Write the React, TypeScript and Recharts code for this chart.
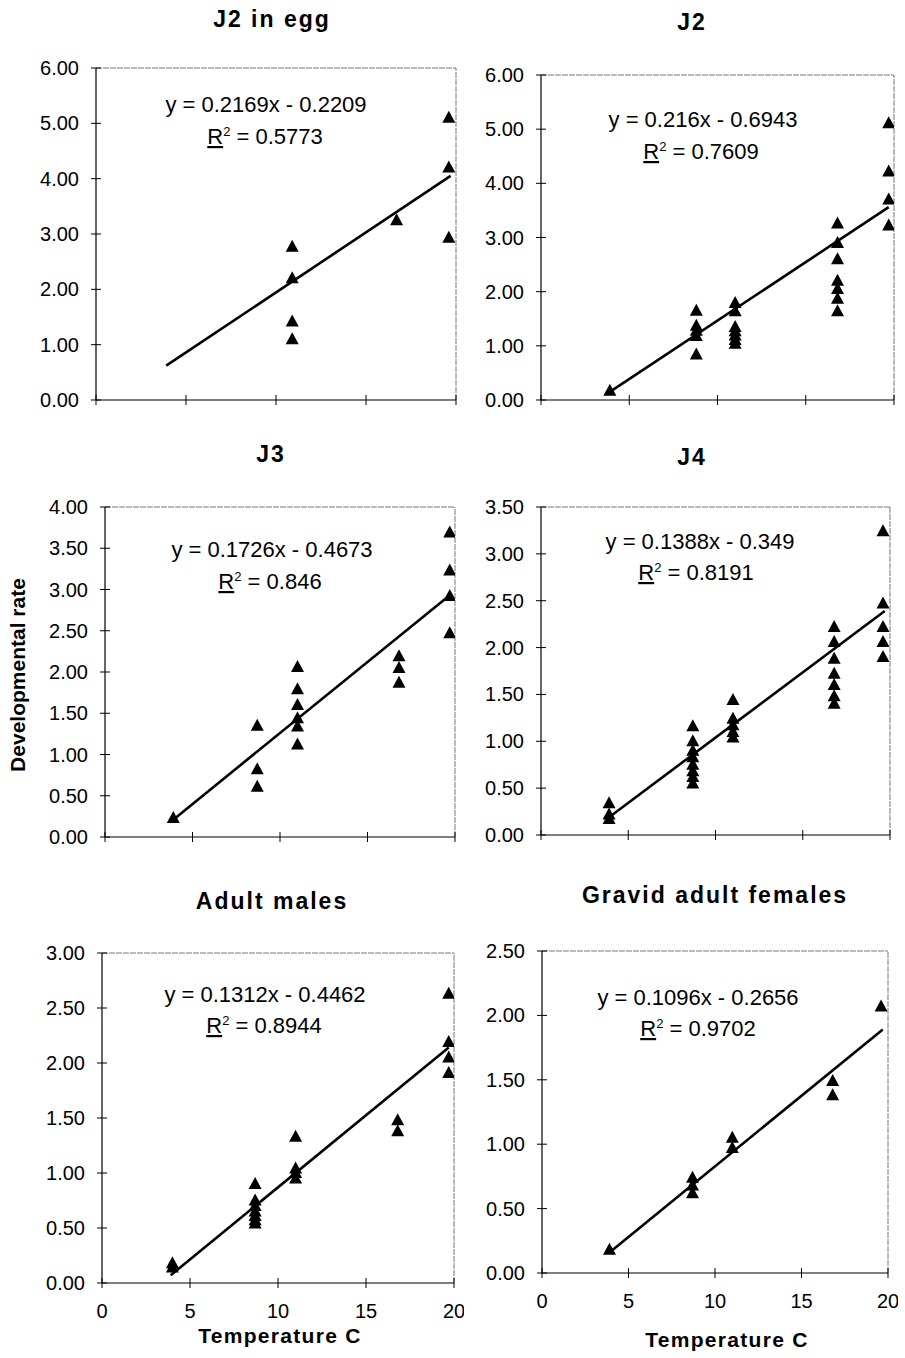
import React from 'react';
import { ScatterChart, Scatter, XAxis, YAxis, ReferenceLine } from 'recharts';

const FONT = '"Liberation Sans", Arial, Helvetica, sans-serif';

type Pt = [number, number];

// ---- data (temperature °C, developmental rate) ----
const j2EggPoints: Pt[] = [
  [10.9, 2.77], [10.9, 2.2], [10.9, 1.42], [10.9, 1.1],
  [16.7, 3.25],
  [19.6, 5.1], [19.6, 4.2], [19.6, 2.93],
];
const j2EggTrend: Pt[] = [[3.9, 0.62], [19.7, 4.05]];

const j2Points: Pt[] = [
  [3.9, 0.17],
  [8.8, 1.65], [8.8, 1.37], [8.8, 1.28], [8.8, 1.18], [8.8, 0.84],
  [11, 1.79], [11, 1.64], [11, 1.35], [11, 1.27], [11, 1.19], [11, 1.11], [11, 1.04],
  [16.8, 3.26], [16.8, 2.9], [16.8, 2.6], [16.8, 2.2], [16.8, 2.05], [16.8, 1.87], [16.8, 1.64],
  [19.7, 5.11], [19.7, 4.22], [19.7, 3.7], [19.7, 3.22],
];
const j2Trend: Pt[] = [[3.9, 0.15], [19.7, 3.56]];

const j3Points: Pt[] = [
  [3.9, 0.23],
  [8.7, 1.35], [8.7, 0.82], [8.7, 0.61],
  [11, 2.06], [11, 1.79], [11, 1.6], [11, 1.44], [11, 1.34], [11, 1.12],
  [16.8, 2.19], [16.8, 2.05], [16.8, 1.87],
  [19.7, 3.69], [19.7, 3.23], [19.7, 2.92], [19.7, 2.47],
];
const j3Trend: Pt[] = [[3.9, 0.21], [19.7, 2.93]];

const j4Points: Pt[] = [
  [3.9, 0.34], [3.9, 0.22], [3.9, 0.17],
  [8.7, 1.16], [8.7, 1.0], [8.7, 0.9], [8.7, 0.83], [8.7, 0.75], [8.7, 0.68], [8.7, 0.62], [8.7, 0.55],
  [11, 1.44], [11, 1.24], [11, 1.17], [11, 1.1], [11, 1.04],
  [16.8, 2.22], [16.8, 2.06], [16.8, 1.88], [16.8, 1.72], [16.8, 1.6], [16.8, 1.48], [16.8, 1.4],
  [19.6, 3.24], [19.6, 2.47], [19.6, 2.22], [19.6, 2.06], [19.6, 1.9],
];
const j4Trend: Pt[] = [[3.9, 0.19], [19.7, 2.39]];

const malePoints: Pt[] = [
  [4, 0.18], [4, 0.14],
  [8.7, 0.9], [8.7, 0.75], [8.7, 0.7], [8.7, 0.65], [8.7, 0.61], [8.7, 0.57], [8.7, 0.54],
  [11, 1.33], [11, 1.04], [11, 1.0], [11, 0.95],
  [16.8, 1.48], [16.8, 1.38],
  [19.7, 2.63], [19.7, 2.19], [19.7, 2.05], [19.7, 1.91],
];
const maleTrend: Pt[] = [[3.9, 0.07], [19.7, 2.14]];

const femalePoints: Pt[] = [
  [3.9, 0.18],
  [8.7, 0.74], [8.7, 0.68], [8.7, 0.62],
  [11, 1.05], [11, 0.97],
  [16.8, 1.49], [16.8, 1.38],
  [19.6, 2.07],
];
const femaleTrend: Pt[] = [[3.9, 0.16], [19.7, 1.89]];

// ---- tick labels ----
const xTicks = [0, 5, 10, 15, 20];
const yTicks6 = [0, 1, 2, 3, 4, 5, 6];
const yTicks4 = [0, 0.5, 1, 1.5, 2, 2.5, 3, 3.5, 4];
const yTicks35 = [0, 0.5, 1, 1.5, 2, 2.5, 3, 3.5];
const yTicks3 = [0, 0.5, 1, 1.5, 2, 2.5, 3];
const yTicks25 = [0, 0.5, 1, 1.5, 2, 2.5];

// ---- titles / equations ----
const titles = ['J2 in egg', 'J2', 'J3', 'J4', 'Adult males', 'Gravid adult females'];
const equations = [
  'y = 0.2169x - 0.2209',
  'y = 0.216x - 0.6943',
  'y = 0.1726x - 0.4673',
  'y = 0.1388x - 0.349',
  'y = 0.1312x - 0.4462',
  'y = 0.1096x - 0.2656',
];
const r2Values = ['0.5773', '0.7609', '0.846', '0.8191', '0.8944', '0.9702'];

const toData = (pts: Pt[]) => pts.map(([x, y]) => ({ x, y }));

// layout
const TICK_SIZE = 5;
const Y_MARGIN = 12;
const X_MARGIN = 16;

interface Box { x0: number; y0: number; x1: number; y1: number }
interface Panel {
  points: Pt[];
  trend: Pt[];
  yTicks: number[];
  box: Box;
  showX: boolean;
  title: { x: number; y: number };
  eq: { x: number; y: number };
  r2: { x: number; y: number };
}

const panels: Panel[] = [
  { points: j2EggPoints, trend: j2EggTrend, yTicks: yTicks6, box: { x0: 96, y0: 68, x1: 456, y1: 400 }, showX: false,
    title: { x: 272, y: 27 }, eq: { x: 266, y: 112 }, r2: { x: 265, y: 144 } },
  { points: j2Points, trend: j2Trend, yTicks: yTicks6, box: { x0: 541, y0: 75, x1: 894, y1: 400 }, showX: false,
    title: { x: 692, y: 30 }, eq: { x: 703, y: 127 }, r2: { x: 701, y: 159 } },
  { points: j3Points, trend: j3Trend, yTicks: yTicks4, box: { x0: 105, y0: 507, x1: 455, y1: 837 }, showX: false,
    title: { x: 271, y: 462 }, eq: { x: 272, y: 557 }, r2: { x: 270, y: 589 } },
  { points: j4Points, trend: j4Trend, yTicks: yTicks35, box: { x0: 541, y0: 507, x1: 890, y1: 835 }, showX: false,
    title: { x: 692, y: 465 }, eq: { x: 700, y: 549 }, r2: { x: 696, y: 580 } },
  { points: malePoints, trend: maleTrend, yTicks: yTicks3, box: { x0: 102, y0: 953, x1: 454, y1: 1283 }, showX: true,
    title: { x: 272, y: 909 }, eq: { x: 265, y: 1002 }, r2: { x: 264, y: 1033 } },
  { points: femalePoints, trend: femaleTrend, yTicks: yTicks25, box: { x0: 542, y0: 951, x1: 888, y1: 1273 }, showX: true,
    title: { x: 715, y: 903 }, eq: { x: 698, y: 1005 }, r2: { x: 698, y: 1036 } },
];

const Triangle = (props: any) => {
  const { cx, cy } = props;
  if (cx == null || cy == null) return <g />;
  return (
    <polygon
      points={`${cx},${cy - 7} ${cx - 6.5},${cy + 5} ${cx + 6.5},${cy + 5}`}
      fill="#000"
    />
  );
};

const NoShape = () => <g />;

const makeYTick = () => (props: any) => {
  const { x, y, payload } = props;
  const axisX = x + TICK_SIZE + Y_MARGIN;
  return (
    <g>
      <line x1={axisX} x2={axisX + 5} y1={y} y2={y} stroke="#000" strokeWidth={1} />
      <text x={x} y={y + 7} textAnchor="end" fontSize={20} fontFamily={FONT} fill="#000">
        {Number(payload.value).toFixed(2)}
      </text>
    </g>
  );
};

const makeXTick = (show: boolean) => (props: any) => {
  const { x, y, payload } = props;
  const axisY = y - TICK_SIZE - X_MARGIN;
  return (
    <g>
      <line x1={x} x2={x} y1={axisY} y2={axisY - 5} stroke="#000" strokeWidth={1} />
      {show && (
        <text x={x} y={y + 14} textAnchor="middle" fontSize={20} fontFamily={FONT} fill="#000">
          {payload.value}
        </text>
      )}
    </g>
  );
};

const YW = 60;
const XH = 40;
const PAD_L = 90;
const PAD_T = 10;
const PAD_R = 10;
const PAD_B = 50;

const PanelChart = ({ p }: { p: Panel }) => {
  const { box } = p;
  const width = box.x1 - box.x0 + PAD_L + PAD_R;
  const height = box.y1 - box.y0 + PAD_T + PAD_B;
  const yMax = p.yTicks[p.yTicks.length - 1];
  return (
    <div style={{ position: 'absolute', left: box.x0 - PAD_L, top: box.y0 - PAD_T, width, height }}>
      <ScatterChart
        width={width}
        height={height}
        margin={{ top: PAD_T, left: PAD_L - YW, right: PAD_R, bottom: PAD_B - XH }}
      >
        <XAxis
          type="number"
          dataKey="x"
          domain={[0, 20]}
          ticks={xTicks}
          allowDataOverflow
          height={XH}
          tickSize={TICK_SIZE}
          tickMargin={X_MARGIN}
          axisLine={{ stroke: '#000', strokeWidth: 1.2 }}
          tickLine={{ stroke: '#000' }}
          tick={makeXTick(p.showX)}
          interval={0}
        />
        <YAxis
          type="number"
          dataKey="y"
          domain={[0, yMax]}
          ticks={p.yTicks}
          allowDataOverflow
          width={YW}
          tickSize={TICK_SIZE}
          tickMargin={Y_MARGIN}
          axisLine={{ stroke: '#000', strokeWidth: 1.2 }}
          tickLine={{ stroke: '#000' }}
          tick={makeYTick()}
          interval={0}
        />
        <ReferenceLine y={yMax} stroke="#777" strokeWidth={1} strokeDasharray="6 1" />
        <ReferenceLine x={20} stroke="#777" strokeWidth={1} strokeDasharray="6 1" />
        <Scatter
          data={toData(p.trend)}
          line={{ stroke: '#000', strokeWidth: 2.6 }}
          shape={NoShape}
          isAnimationActive={false}
        />
        <Scatter data={toData(p.points)} shape={Triangle} isAnimationActive={false} />
      </ScatterChart>
    </div>
  );
};

export default function App() {
  return (
    <div style={{ position: 'absolute', left: 0, top: 0, width: 905, height: 1358, background: '#fff', overflow: 'hidden' }}>
      {panels.map((p, i) => (
        <PanelChart key={i} p={p} />
      ))}
      <svg width={905} height={1358} style={{ position: 'absolute', left: 0, top: 0, pointerEvents: 'none' }}>
        {panels.map((p, i) => (
          <g key={i} fontFamily={FONT} fill="#000">
            <text x={p.title.x} y={p.title.y} textAnchor="middle" fontSize={23} fontWeight="bold" letterSpacing={2}>
              {titles[i]}
            </text>
            <text x={p.eq.x} y={p.eq.y} textAnchor="middle" fontSize={22}>
              {equations[i]}
            </text>
            <text x={p.r2.x} y={p.r2.y} textAnchor="middle" fontSize={22}>
              <tspan textDecoration="underline">R</tspan>
              <tspan dy={-8} fontSize={13}>2</tspan>
              <tspan dy={8}>{' = ' + r2Values[i]}</tspan>
            </text>
          </g>
        ))}
        <text
          x={0}
          y={0}
          transform="translate(25,675) rotate(-90)"
          textAnchor="middle"
          fontFamily={FONT}
          fontSize={21}
          fontWeight="bold"
        >
          Developmental rate
        </text>
        <text x={280} y={1343} textAnchor="middle" fontFamily={FONT} fontSize={21} fontWeight="bold" letterSpacing={1.3}>
          Temperature C
        </text>
        <text x={727} y={1347} textAnchor="middle" fontFamily={FONT} fontSize={21} fontWeight="bold" letterSpacing={1.3}>
          Temperature C
        </text>
      </svg>
    </div>
  );
}
